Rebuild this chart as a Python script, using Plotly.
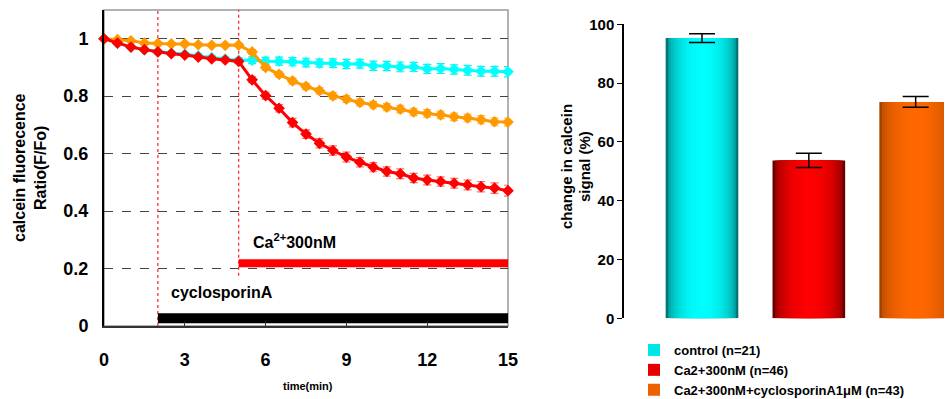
import plotly.graph_objects as go

# ---------------- data ----------------
time_min = [0, 0.5, 1, 1.5, 2, 2.5, 3, 3.5, 4, 4.5, 5, 5.5, 6, 6.5, 7, 7.5, 8, 8.5, 9, 9.5,
            10, 10.5, 11, 11.5, 12, 12.5, 13, 13.5, 14, 14.5, 15]

control = [1.000, 0.985, 0.971, 0.962, 0.955, 0.950, 0.946, 0.940, 0.934, 0.929, 0.925,
           0.925, 0.922, 0.922, 0.920, 0.917, 0.915, 0.915, 0.912, 0.913, 0.906, 0.905,
           0.902, 0.902, 0.895, 0.896, 0.893, 0.890, 0.887, 0.887, 0.885]
control_err = [0, 0.003, 0.004, 0.004, 0.005, 0.005, 0.006, 0.006, 0.006, 0.007, 0.008,
               0.012, 0.013, 0.014, 0.014, 0.015, 0.014, 0.015, 0.016, 0.015, 0.016, 0.016,
               0.017, 0.016, 0.016, 0.017, 0.016, 0.017, 0.017, 0.017, 0.018]

ca_csa = [1.000, 0.997, 0.993, 0.985, 0.983, 0.982, 0.982, 0.979, 0.977, 0.977, 0.978,
          0.954, 0.900, 0.876, 0.853, 0.834, 0.819, 0.801, 0.790, 0.778, 0.770, 0.762,
          0.755, 0.745, 0.740, 0.735, 0.728, 0.724, 0.718, 0.711, 0.710]
ca_csa_err = [0, 0.003, 0.003, 0.004, 0.004, 0.004, 0.005, 0.005, 0.005, 0.005, 0.006,
              0.008, 0.010, 0.010, 0.011, 0.011, 0.011, 0.012, 0.012, 0.012, 0.012, 0.012,
              0.013, 0.013, 0.013, 0.013, 0.013, 0.013, 0.014, 0.014, 0.014]

ca = [1.000, 0.985, 0.971, 0.962, 0.954, 0.948, 0.943, 0.936, 0.930, 0.926, 0.921,
      0.857, 0.802, 0.758, 0.708, 0.668, 0.636, 0.611, 0.588, 0.570, 0.553, 0.538,
      0.530, 0.515, 0.508, 0.503, 0.497, 0.491, 0.485, 0.480, 0.471]
ca_err = [0, 0.003, 0.004, 0.004, 0.005, 0.005, 0.005, 0.006, 0.006, 0.006, 0.007,
          0.010, 0.012, 0.013, 0.015, 0.015, 0.016, 0.016, 0.017, 0.016, 0.016, 0.016,
          0.017, 0.016, 0.017, 0.016, 0.017, 0.017, 0.018, 0.018, 0.019]

# treatment periods (min) and the level at which their bars are drawn
ca_period = [5, 15]
ca_level = [0.218, 0.218]
csa_period = [2, 15]
csa_level = [0.027, 0.027]

x_ticks = [0, 3, 6, 9, 12, 15]
y_ticks = [0, 0.2, 0.4, 0.6, 0.8, 1]
y_tick_text = ["0", "0.2", "0.4", "0.6", "0.8", "1"]

bar_names = ["control (n=21)", "Ca2+300nM (n=46)", "Ca2+300nM+cyclosporinA1μM (n=43)"]
bar_values = [95.3, 53.7, 73.6]
bar_err = [1.5, 2.4, 1.8]
bar_y_ticks = [0, 20, 40, 60, 80, 100]

# ---------------- styling ----------------
W, H = 952, 399
OFF = 8  # page body margin offset of the figure inside the browser window
FONT = "Liberation Sans"
CYAN = "#00FFFF"
ORANGE = "#FF9900"
RED = "#FF0000"

bar_edge = [(0, 118, 118), (105, 0, 0), (165, 68, 0)]
bar_center = [(0, 255, 255), (255, 0, 0), (255, 104, 0)]


def px_x(p):
    return (p - OFF) / W


def px_y(p):
    return 1 - (p - OFF) / H


fig = go.Figure()

# vertical dotted markers of treatment starts
fig.add_trace(go.Scatter(x=[csa_period[0], csa_period[0]], y=[0, 1.1], mode="lines",
                         line=dict(color="#FF2020", width=1.2, dash="dot"),
                         showlegend=False, hoverinfo="skip", xaxis="x", yaxis="y"))
fig.add_trace(go.Scatter(x=[ca_period[0], ca_period[0]], y=[0.175, 1.1], mode="lines",
                         line=dict(color="#FF2020", width=1.2, dash="dot"),
                         showlegend=False, hoverinfo="skip", xaxis="x", yaxis="y"))

# treatment bars
fig.add_trace(go.Scatter(x=ca_period, y=ca_level, mode="lines",
                         line=dict(color="#FF0000", width=8),
                         showlegend=False, hoverinfo="skip", cliponaxis=False))
fig.add_trace(go.Scatter(x=csa_period, y=csa_level, mode="lines",
                         line=dict(color="#000000", width=10),
                         showlegend=False, hoverinfo="skip", cliponaxis=False))

# time courses
for vals, errs, col, ecol in [
    (control, control_err, CYAN, "rgba(0,230,230,0.9)"),
    (ca_csa, ca_csa_err, ORANGE, "rgba(255,170,60,0.85)"),
    (ca, ca_err, RED, "rgba(255,60,60,0.75)"),
]:
    fig.add_trace(go.Scatter(
        x=time_min, y=vals, mode="lines+markers",
        line=dict(color=col, width=3),
        marker=dict(symbol="diamond", size=9, color=col),
        error_y=dict(type="data", array=errs, color=ecol, thickness=1.2, width=4),
        showlegend=False, cliponaxis=False, xaxis="x", yaxis="y"))

# gradient bars (layered, narrowing towards the bright centre)
N = 14
BW = 0.68
for i, (name, val, err) in enumerate(zip(bar_names, bar_values, bar_err)):
    e, c = bar_edge[i], bar_center[i]
    for k in range(N):
        f = 1 - k / N  # width fraction
        amt = (1 - f * f) ** 0.5
        col = "rgb(%d,%d,%d)" % tuple(int(e[j] + (c[j] - e[j]) * amt) for j in range(3))
        last = k == N - 1
        fig.add_trace(go.Bar(
            x=[i], y=[val], width=BW * f, marker=dict(color=col, line=dict(width=0)),
            name=name, showlegend=(k == 6), legendrank=i + 1,
            error_y=dict(type="data", array=[err], color="black", thickness=1.5, width=13,
                         visible=last),
            xaxis="x2", yaxis="y2", hoverinfo="skip"))

fig.update_layout(
    width=W, height=H,
    margin=dict(l=0, r=0, t=0, b=0, autoexpand=False),
    paper_bgcolor="white", plot_bgcolor="white",
    font=dict(family=FONT, color="black", weight="bold"),
    barmode="overlay",
    showlegend=True,
    legend=dict(x=px_x(634), y=px_y(335), xanchor="left", yanchor="top",
                font=dict(size=13, family=FONT, weight="bold"),
                bgcolor="rgba(0,0,0,0)", itemclick=False, tracegroupgap=0),
    xaxis=dict(domain=[px_x(104), px_x(508)], range=[0, 15], tickvals=x_ticks,
               ticks="inside", ticklen=4, tickwidth=1, tickcolor="#333", automargin=False,
               showline=True, linecolor="#333", linewidth=2, showgrid=False, zeroline=False,
               tickfont=dict(size=18, family=FONT, weight="bold"), ticklabelstandoff=16),
    yaxis=dict(domain=[px_y(326), px_y(10)], range=[0, 1.1], tickvals=y_ticks,
               ticktext=y_tick_text, ticks="", showline=True, linecolor="black", linewidth=2,
               showgrid=True, gridcolor="#444", griddash="dash", gridwidth=1, zeroline=False,
               automargin=False,
               tickfont=dict(size=18, family=FONT, weight="bold"), ticklabelstandoff=10),
    xaxis2=dict(domain=[px_x(624), px_x(952)], range=[-0.73, 2.34], showticklabels=False,
                showline=False, showgrid=False, zeroline=False, ticks="", anchor="y2",
                automargin=False),
    yaxis2=dict(domain=[px_y(318.3), px_y(24.3)], range=[0, 100], tickvals=bar_y_ticks,
                ticks="outside", ticklen=5, tickcolor="black", showline=True,
                linecolor="black", linewidth=1.5, showgrid=False, zeroline=False,
                tickfont=dict(size=15, family=FONT, weight="bold"), anchor="x2",
                ticklabelstandoff=0, automargin=False),
)

# frame of the left plot (grey top/right border)
fig.add_shape(type="rect", xref="x domain", yref="y domain", x0=0, x1=1, y0=0, y1=1,
              line=dict(color="#999999", width=1.5), layer="below")

ann = [
    dict(text="Ca<sup>2+</sup>300nM", x=5.45, y=0.297, xref="x", yref="y",
         xanchor="left", yanchor="middle", font=dict(size=16)),
    dict(text="cyclosporinA", x=2.4, y=0.115, xref="x", yref="y",
         xanchor="left", yanchor="middle", font=dict(size=16)),
    dict(text="time(min)", x=px_x(308), y=px_y(386), xref="paper", yref="paper",
         xanchor="center", yanchor="middle", font=dict(size=11)),
    dict(text="calcein fluorecence", x=px_x(19), y=px_y(168), xref="paper", yref="paper",
         textangle=-90, xanchor="center", yanchor="middle", font=dict(size=16)),
    dict(text="Ratio(F/Fo)", x=px_x(40), y=px_y(168), xref="paper", yref="paper",
         textangle=-90, xanchor="center", yanchor="middle", font=dict(size=16)),
    dict(text="change in calcein", x=px_x(566), y=px_y(167), xref="paper", yref="paper",
         textangle=-90, xanchor="center", yanchor="middle", font=dict(size=15)),
    dict(text="signal (%)", x=px_x(584), y=px_y(167), xref="paper", yref="paper",
         textangle=-90, xanchor="center", yanchor="middle", font=dict(size=15)),
]
for a in ann:
    a["showarrow"] = False
    a["font"]["family"] = FONT
    a["font"]["weight"] = "bold"
    a["font"]["color"] = "black"
    fig.add_annotation(**a)

fig.write_html("out.html")
